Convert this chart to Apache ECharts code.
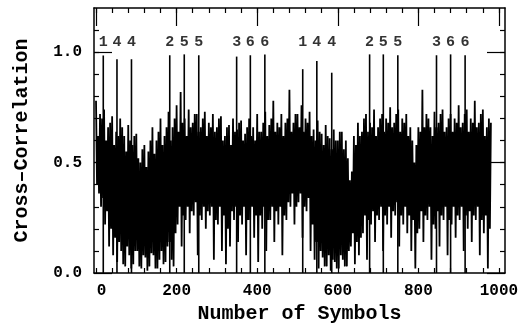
<!DOCTYPE html>
<html>
<head>
<meta charset="utf-8">
<script src="https://cdn.jsdelivr.net/npm/echarts@6/dist/echarts.min.js"></script>
<style>
  html, body { margin: 0; padding: 0; background: #fff; }
  #chart { width: 528px; height: 335px; }
</style>
</head>
<body>
<div id="chart"></div>
<script>
// local maxima of the cross-correlation trace, one every 5 symbols (0, 5, ... 980)
const peakValues = [
  0.78, 0.62, 0.72, 0.70, 0.74, 0.60, 0.66, 0.68, 0.71, 0.58, 0.64, 0.62, 0.70, 0.66, 0.62, 0.55, 0.67, 0.60, 0.58, 0.62,
  0.63, 0.52, 0.50, 0.56, 0.58, 0.48, 0.55, 0.60, 0.66, 0.54, 0.60, 0.64, 0.70, 0.58, 0.62, 0.66, 0.73, 0.60, 0.66, 0.70,
  0.76, 0.64, 0.82, 0.68, 0.70, 0.62, 0.74, 0.66, 0.68, 0.72, 0.72, 0.64, 0.66, 0.70, 0.73, 0.62, 0.68, 0.66, 0.72, 0.64,
  0.66, 0.70, 0.71, 0.60, 0.62, 0.66, 0.67, 0.58, 0.70, 0.64, 0.65, 0.68, 0.69, 0.60, 0.63, 0.66, 0.70, 0.62, 0.66, 0.60,
  0.72, 0.64, 0.64, 0.68, 0.73, 0.62, 0.67, 0.70, 0.78, 0.64, 0.68, 0.66, 0.72, 0.62, 0.68, 0.70, 0.83, 0.64, 0.68, 0.72,
  0.72, 0.66, 0.76, 0.64, 0.70, 0.68, 0.73, 0.62, 0.65, 0.60, 0.69, 0.64, 0.63, 0.58, 0.67, 0.62, 0.61, 0.56, 0.65, 0.60,
  0.60, 0.64, 0.64, 0.56, 0.60, 0.52, 0.42, 0.46, 0.62, 0.58, 0.68, 0.62, 0.64, 0.70, 0.72, 0.64, 0.68, 0.66, 0.74, 0.62,
  0.66, 0.70, 0.72, 0.64, 0.70, 0.68, 0.75, 0.66, 0.68, 0.72, 0.74, 0.64, 0.70, 0.68, 0.72, 0.62, 0.66, 0.60, 0.50, 0.58,
  0.66, 0.64, 0.83, 0.66, 0.72, 0.70, 0.66, 0.62, 0.73, 0.66, 0.68, 0.72, 0.74, 0.64, 0.66, 0.70, 0.72, 0.64, 0.70, 0.68,
  0.76, 0.66, 0.68, 0.72, 0.74, 0.64, 0.70, 0.68, 0.78, 0.66, 0.68, 0.72, 0.74, 0.62, 0.66, 0.70, 0.68
];
// local minima in between (2.5, 7.5, ... 977.5)
const troughValues = [
  0.40, 0.36, 0.30, 0.34, 0.22, 0.28, 0.12, 0.20, 0.08, 0.16, 0.05, 0.14, 0.10, 0.04, 0.03, 0.12, 0.08, 0.02, 0.04, 0.10,
  0.10, 0.03, 0.02, 0.08, 0.07, 0.01, 0.03, 0.09, 0.08, 0.02, 0.02, 0.06, 0.10, 0.04, 0.05, 0.12, 0.14, 0.06, 0.03, 0.18,
  0.22, 0.30, 0.12, 0.26, 0.24, 0.30, 0.18, 0.28, 0.26, 0.32, 0.08, 0.26, 0.24, 0.30, 0.20, 0.28, 0.26, 0.30, 0.06, 0.24,
  0.22, 0.30, 0.10, 0.26, 0.04, 0.20, 0.12, 0.28, 0.24, 0.30, 0.14, 0.26, 0.22, 0.30, 0.08, 0.24, 0.24, 0.30, 0.16, 0.26,
  0.05, 0.26, 0.20, 0.30, 0.10, 0.24, 0.24, 0.30, 0.14, 0.28, 0.22, 0.30, 0.08, 0.26, 0.24, 0.32, 0.30, 0.36, 0.22, 0.30,
  0.32, 0.36, 0.16, 0.30, 0.28, 0.34, 0.10, 0.22, 0.06, 0.14, 0.02, 0.10, 0.07, 0.03, 0.03, 0.08, 0.01, 0.06, 0.05, 0.02,
  0.02, 0.08, 0.06, 0.03, 0.03, 0.10, 0.12, 0.18, 0.04, 0.14, 0.08, 0.16, 0.18, 0.26, 0.06, 0.24, 0.22, 0.28, 0.14, 0.26,
  0.24, 0.30, 0.10, 0.26, 0.22, 0.30, 0.16, 0.28, 0.26, 0.32, 0.12, 0.26, 0.22, 0.30, 0.18, 0.26, 0.10, 0.24, 0.02, 0.18,
  0.20, 0.28, 0.14, 0.26, 0.24, 0.30, 0.06, 0.22, 0.20, 0.28, 0.12, 0.26, 0.24, 0.30, 0.08, 0.24, 0.22, 0.30, 0.16, 0.26,
  0.24, 0.30, 0.10, 0.26, 0.20, 0.28, 0.14, 0.26, 0.24, 0.30, 0.08, 0.24, 0.18, 0.26, 0.02, 0.20
];

// correlation peaks of the repeated symbols
const spikeSymbols = [18, 52, 88, 183, 219, 255, 349, 383, 419, 513, 548, 585, 679, 713, 749, 845, 880, 916];
const spikeValues = [0.985, 0.968, 0.968, 0.986, 0.99, 0.986, 0.98, 0.986, 0.99, 0.923, 0.96, 0.907, 0.99, 0.99, 0.986, 0.986, 0.99, 0.986];
const spikeLabels = ['1', '4', '4', '2', '5', '5', '3', '6', '6', '1', '4', '4', '2', '5', '5', '3', '6', '6'];
const labelLevel = 1.045;

const xLabelTicks = [0, 200, 400, 600, 800, 1000];
const xMinorTicks = [0, 40, 80, 120, 160, 200, 240, 280, 320, 360, 400, 440, 480, 520, 560, 600,
  640, 680, 720, 760, 800, 840, 880, 920, 960, 1000];
const yLabelTicks = [0, 0.5, 1.0];
const yMinorTicks = [0.1, 0.2, 0.3, 0.4, 0.5, 0.6, 0.7, 0.8, 0.9, 1.0, 1.1];

const FONT = '"Liberation Mono", "DejaVu Sans Mono", monospace';

// trace alternates max / min
const trace = [];
peakValues.forEach((v, i) => {
  trace.push([i * 5, v]);
  if (i < troughValues.length) trace.push([i * 5 + 2.5, troughValues[i]]);
});
const spikes = spikeSymbols.map((s, i) => [s, spikeValues[i]]);
const labelPoints = spikeSymbols.map((s, i) => ({ value: [s, labelLevel], name: spikeLabels[i] }));

const chart = echarts.init(document.getElementById('chart'));

const GRID = { left: 94, right: 23, top: 8, bottom: 62 };
const frameLine = { show: true, onZero: false, lineStyle: { color: '#000', width: 1.5 } };
const noLine = { show: false, onZero: false };

// one axis per side and grid; grid 1 sits on grid 0 and carries the long ticks
function axisDef(kind, gridIndex, position, ticks, length, showLine) {
  const ax = {
    type: 'value', gridIndex: gridIndex, position: position, z: 10,
    axisLine: showLine ? frameLine : noLine,
    axisTick: { inside: true, length: length, customValues: ticks, lineStyle: { color: '#000', width: 1.2 } },
    axisLabel: { show: false },
    splitLine: { show: false }
  };
  if (kind === 'x') { ax.min = -5; ax.max = 1015; } else { ax.min = 0; ax.max = 1.2; }
  return ax;
}

const xBottom = axisDef('x', 0, 'bottom', xMinorTicks, 5, true);
xBottom.axisLabel = {
  show: true,
  customValues: xLabelTicks,
  color: '#000', fontFamily: FONT, fontSize: 16, fontWeight: 'bold', margin: 10,
  formatter: (v) => (v === 0 ? '{z|0}' : String(v)),
  rich: { z: { padding: [0, 0, 0, 11], color: '#000', fontFamily: FONT, fontSize: 16, fontWeight: 'bold' } }
};
xBottom.name = 'Number of Symbols';
xBottom.nameLocation = 'middle';
xBottom.nameGap = 30;
xBottom.nameTextStyle = { color: '#000', fontFamily: FONT, fontSize: 20, fontWeight: 'bold' };

const yLeft = axisDef('y', 0, 'left', yMinorTicks, 5, true);
yLeft.axisLabel = {
  show: true,
  customValues: yLabelTicks,
  color: '#000', fontFamily: FONT, fontSize: 16, fontWeight: 'bold', margin: 12,
  formatter: (v) => v.toFixed(1)
};
yLeft.name = 'Cross\u2013Correlation';
yLeft.nameLocation = 'middle';
yLeft.nameGap = 62;
yLeft.nameTextStyle = { color: '#000', fontFamily: FONT, fontSize: 20, fontWeight: 'bold' };

const option = {
  animation: false,
  backgroundColor: '#fff',
  grid: [Object.assign({}, GRID), Object.assign({}, GRID)],
  xAxis: [
    xBottom,
    axisDef('x', 0, 'top', xMinorTicks, 5, true),
    axisDef('x', 1, 'top', xLabelTicks, 18, false)
  ],
  yAxis: [
    yLeft,
    axisDef('y', 0, 'right', yMinorTicks, 5, true),
    axisDef('y', 1, 'left', yLabelTicks, 18, false),
    axisDef('y', 1, 'right', yLabelTicks, 18, false)
  ],
  series: [
    {
      name: 'Cross-Correlation',
      type: 'line',
      data: trace,
      showSymbol: false,
      lineStyle: { color: '#000', width: 1.8 },
      emphasis: { disabled: true }
    },
    {
      name: 'Peaks',
      type: 'bar',
      data: spikes,
      barWidth: 1.6,
      itemStyle: { color: '#000' },
      emphasis: { disabled: true }
    },
    {
      name: 'Labels',
      type: 'scatter',
      data: labelPoints,
      symbolSize: 1,
      itemStyle: { color: 'rgba(0,0,0,0)' },
      label: {
        show: true, position: 'inside', formatter: '{b}',
        color: '#000', fontFamily: FONT, fontSize: 15, fontWeight: 'bold'
      },
      emphasis: { disabled: true }
    }
  ]
};

chart.setOption(option);
</script>
</body>
</html>
